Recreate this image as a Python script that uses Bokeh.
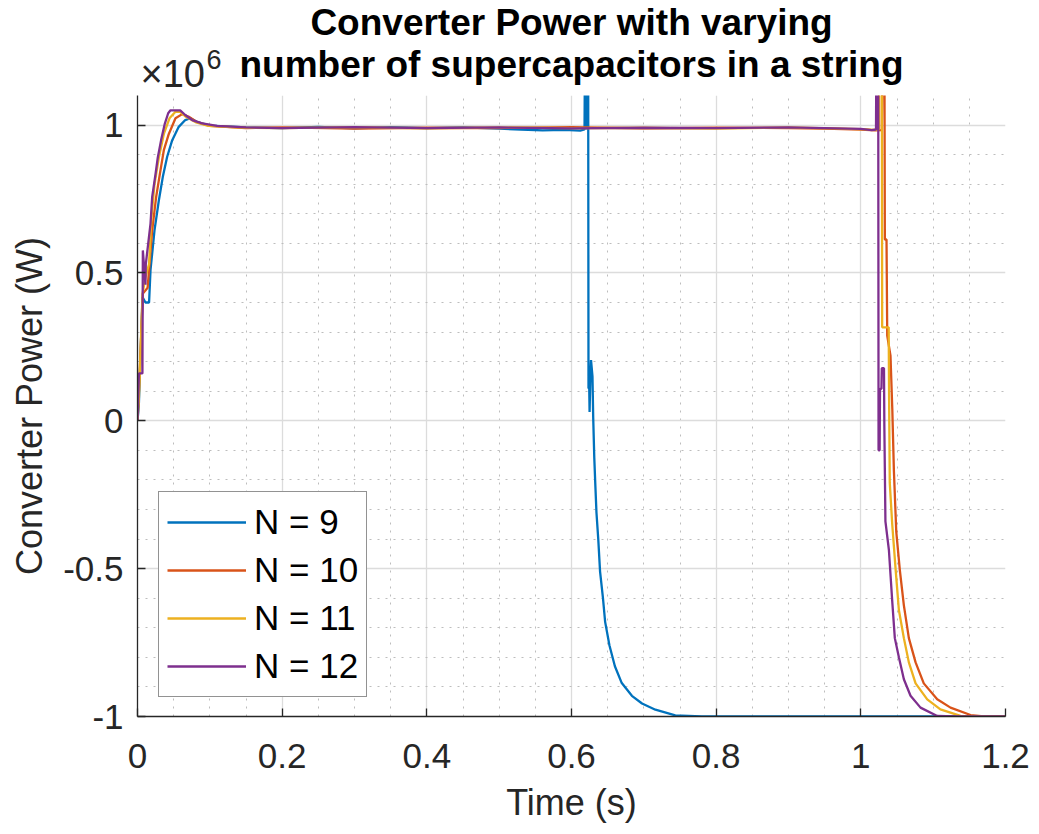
from bokeh.plotting import figure
from bokeh.models import FixedTicker, Legend, LegendItem, Range1d
from bokeh.layouts import column
from bokeh.core.properties import value
from bokeh.embed import file_html
from bokeh.resources import INLINE

# ---- data (power in units of 1e6 W, time in s) ----
t9 = [0.0, 0.0018, 0.0069, 0.011, 0.016, 0.018, 0.0235, 0.0295, 0.035, 0.041, 0.048, 0.057, 0.066, 0.073, 0.0825,
      0.101, 0.15, 0.2, 0.25, 0.3, 0.35, 0.4, 0.45, 0.5, 0.53, 0.56, 0.59, 0.612, 0.618, 0.619, 0.6205, 0.621, 0.622,
      0.623, 0.6235, 0.6245, 0.625, 0.626, 0.627, 0.629, 0.630, 0.6315, 0.633, 0.6345, 0.637, 0.6395, 0.6435, 0.6465,
      0.6525, 0.660, 0.6695, 0.6835, 0.6975, 0.716, 0.7435, 0.78, 0.9, 1.05, 1.2]
p9 = [0.0, 0.05, 0.418, 0.40, 0.40, 0.51, 0.644, 0.745, 0.825, 0.893, 0.949, 0.994, 1.017, 1.023, 1.01,
      0.998, 0.992, 0.99, 0.994, 0.989, 0.993, 0.99, 0.992, 0.988, 0.985, 0.982, 0.984, 0.981, 0.985, 1.4, 1.4, 0.985, 1.4,
      1.4, 0.11, 0.11, 0.03, 0.14, 0.205, 0.15, 0.012, -0.125, -0.22, -0.31, -0.40, -0.51, -0.60, -0.68,
      -0.76, -0.83, -0.887, -0.93, -0.956, -0.977, -0.996, -1.0, -1.0, -1.0, -1.0]

t10 = [0.0, 0.002, 0.0074, 0.014, 0.0166, 0.0203, 0.0258, 0.031, 0.0364, 0.0433, 0.0525, 0.0618, 0.071, 0.0825, 0.1,
       0.15, 0.2, 0.3, 0.4, 0.5, 0.6, 0.7, 0.8, 0.9, 0.95, 1.0, 1.02, 1.029, 1.0305, 1.0325, 1.0332, 1.0355, 1.0365,
       1.041, 1.0435, 1.0457, 1.049, 1.054, 1.0595, 1.0664, 1.0757, 1.087, 1.1056, 1.124, 1.1517, 1.17, 1.2]
p10 = [0.0, 0.10, 0.43, 0.45, 0.53, 0.644, 0.757, 0.836, 0.915, 0.97, 1.023, 1.037, 1.028, 1.01, 0.997,
       0.99, 0.992, 0.988, 0.991, 0.99, 0.993, 0.989, 0.991, 0.99, 0.988, 0.985, 0.982, 0.983, 1.4, 1.4, 0.613, 0.613, 0.288,
       0.22, 0.04, -0.168, -0.376, -0.507, -0.624, -0.735, -0.817, -0.888, -0.942, -0.97, -0.995, -1.0, -1.0]

t11 = [0.0, 0.002, 0.007, 0.011, 0.016, 0.0194, 0.0235, 0.0295, 0.0364, 0.0442, 0.0525, 0.059, 0.067, 0.08, 0.098,
       0.15, 0.2, 0.3, 0.4, 0.5, 0.6, 0.7, 0.8, 0.9, 1.0, 1.02, 1.025, 1.026, 1.029, 1.0295, 1.0385, 1.039, 1.040,
       1.0434, 1.048, 1.0526, 1.0595, 1.0664, 1.0757, 1.0918, 1.110, 1.1378, 1.16, 1.2]
p11 = [0.0, 0.08, 0.43, 0.486, 0.53, 0.69, 0.80, 0.89, 0.97, 1.023, 1.045, 1.045, 1.028, 1.01, 0.997,
       0.991, 0.99, 0.993, 0.989, 0.992, 0.99, 0.991, 0.988, 0.992, 0.986, 0.984, 0.985, 1.4, 1.4, 0.316, 0.316, 0.10, -0.21,
       -0.35, -0.50, -0.64, -0.735, -0.817, -0.888, -0.942, -0.976, -0.998, -1.0, -1.0]

t12 = [0.0, 0.002, 0.0068, 0.0074, 0.011, 0.0115, 0.018, 0.0203, 0.025, 0.028, 0.0327, 0.0378, 0.0424, 0.0456, 0.059,
       0.066, 0.0756, 0.0894, 0.11, 0.15, 0.2, 0.3, 0.4, 0.5, 0.6, 0.7, 0.8, 0.9, 1.0, 1.015, 1.021, 1.0217, 1.024,
       1.0245, 1.026, 1.0265, 1.0285, 1.029, 1.032, 1.0325, 1.034, 1.0388, 1.0434, 1.047, 1.0526, 1.0595, 1.0687,
       1.0825, 1.1056, 1.13, 1.2]
p12 = [0.0, 0.16, 0.16, 0.576, 0.46, 0.53, 0.667, 0.757, 0.836, 0.89, 0.95, 1.005, 1.04, 1.05, 1.05,
       1.034, 1.017, 1.006, 0.997, 0.992, 0.99, 0.993, 0.99, 0.992, 0.989, 0.991, 0.99, 0.992, 0.987, 0.983, 0.985, 1.4, 1.4,
       -0.10, -0.10, 0.108, 0.108, 0.178, 0.178, -0.016, -0.34, -0.437, -0.61, -0.735, -0.80, -0.874, -0.93,
       -0.97, -0.998, -1.0, -1.0]

series_labels = ["N = 9", "N = 10", "N = 11", "N = 12"]
series_colors = ["#0072BD", "#D95319", "#EDB120", "#7E2F8E"]

x_ticks = [0, 0.2, 0.4, 0.6, 0.8, 1.0, 1.2]
x_tick_labels = ["0", "0.2", "0.4", "0.6", "0.8", "1", "1.2"]
x_minor = [0.05, 0.1, 0.15, 0.25, 0.3, 0.35, 0.45, 0.5, 0.55, 0.65, 0.7, 0.75, 0.85, 0.9, 0.95, 1.05, 1.1, 1.15]
y_ticks = [-1, -0.5, 0, 0.5, 1]
y_tick_labels = ["-1", "-0.5", "0", "0.5", "1"]
y_minor = [-0.9, -0.8, -0.7, -0.6, -0.4, -0.3, -0.2, -0.1, 0.1, 0.2, 0.3, 0.4, 0.6, 0.7, 0.8, 0.9, 1.1]

title_lines = ["Converter Power with varying", "number of supercapacitors in a string"]
exponent_base = "\u00d710"
exponent_power = "6"

FONT = "Liberation Sans"
DARK = "#262626"
TOP_H = 95
W = 1039
H = 834
X0, X1 = 0.0, 1.2
YSHIFT = 14  # correction for header strip placement


def hy(baseline_px):
    """header-strip y for a text baseline wanted at baseline_px from the top of the page"""
    return TOP_H - baseline_px + YSHIFT


# ---- header strip holding the two-line title and the x10^6 multiplier ----
head = figure(width=W, height=TOP_H, x_range=Range1d(X0, X1), y_range=Range1d(0, TOP_H),
              output_backend="svg", toolbar_location=None, title=None,
              x_axis_type=None, y_axis_type=None,
              min_border_left=137, min_border_right=34, min_border_top=0, min_border_bottom=0)
head.outline_line_color = None
head.background_fill_color = "white"
head.border_fill_color = "white"
head.xgrid.visible = False
head.ygrid.visible = False
head.text(x=[(X0 + X1) / 2] * 2, y=[hy(36), hy(78)], text=title_lines,
          text_font=value(FONT), text_font_size="37px", text_font_style="bold",
          text_color="black", text_align="center", text_baseline="alphabetic")
head.text(x=[X0], y=[hy(87)], text=[exponent_base], x_offset=3, text_font=value(FONT),
          text_font_size="38px", text_color=DARK, text_align="left", text_baseline="alphabetic")
head.text(x=[X0], y=[hy(73)], text=[exponent_power], x_offset=69, text_font=value(FONT),
          text_font_size="27px", text_color=DARK, text_align="left", text_baseline="alphabetic")

# ---- main plot ----
p = figure(width=W, height=H - TOP_H, x_range=Range1d(X0, X1), y_range=Range1d(-1, 1.1),
           output_backend="svg", toolbar_location=None, title=None,
           min_border_left=137, min_border_right=34, min_border_top=0, min_border_bottom=118)
p.outline_line_color = None
p.background_fill_color = "white"
p.border_fill_color = "white"

p.xaxis.ticker = FixedTicker(ticks=x_ticks, minor_ticks=x_minor)
p.yaxis.ticker = FixedTicker(ticks=y_ticks, minor_ticks=y_minor)
p.xaxis.major_label_overrides = {k: v for k, v in zip(x_ticks, x_tick_labels)}
p.yaxis.major_label_overrides = {k: v for k, v in zip(y_ticks, y_tick_labels)}

for ax in (p.xaxis[0], p.yaxis[0]):
    ax.axis_line_color = DARK
    ax.axis_line_width = 1.3
    ax.major_tick_line_color = DARK
    ax.major_tick_line_width = 1.3
    ax.major_tick_in = 8
    ax.major_tick_out = 0
    ax.minor_tick_in = 0
    ax.minor_tick_out = 0
    ax.major_label_text_font = FONT
    ax.major_label_text_font_size = "35px"
    ax.major_label_text_color = DARK
    ax.axis_label_text_font = FONT
    ax.axis_label_text_font_size = "36px"
    ax.axis_label_text_font_style = "normal"
    ax.axis_label_text_color = DARK

p.xaxis.axis_label = "Time (s)"
p.yaxis.axis_label = "Converter Power (W)"
p.xaxis.major_label_standoff = 27
p.xaxis.axis_label_standoff = 11
p.yaxis.major_label_standoff = 14
p.yaxis.axis_label_standoff = 10

for g in (p.xgrid[0], p.ygrid[0]):
    g.grid_line_color = "#dcdcdc"
    g.grid_line_width = 1.3
    g.minor_grid_line_color = "#bdbdbd"
    g.minor_grid_line_width = 1
    g.minor_grid_line_dash = "2 6"

renderers = []
for tt, pp, col in zip([t9, t10, t11, t12], [p9, p10, p11, p12], series_colors):
    r = p.line(tt, pp, line_color=col, line_width=2.3)
    renderers.append(r)

legend = Legend(items=[LegendItem(label=lab, renderers=[r]) for lab, r in zip(series_labels, renderers)],
                location=(21, 19), orientation="vertical")
legend.border_line_color = DARK
legend.border_line_width = 1.2
legend.background_fill_color = "white"
legend.background_fill_alpha = 1.0
legend.padding = 8
legend.spacing = 4
legend.margin = 0
legend.glyph_width = 79
legend.glyph_height = 44
legend.label_height = 44
legend.label_standoff = 8
legend.label_text_font = FONT
legend.label_text_font_size = "35px"
legend.label_text_color = "black"
legend.label_text_baseline = "middle"
p.add_layout(legend)

layout = column(head, p, spacing=0)
open("out.html", "w").write(file_html(layout, INLINE))
